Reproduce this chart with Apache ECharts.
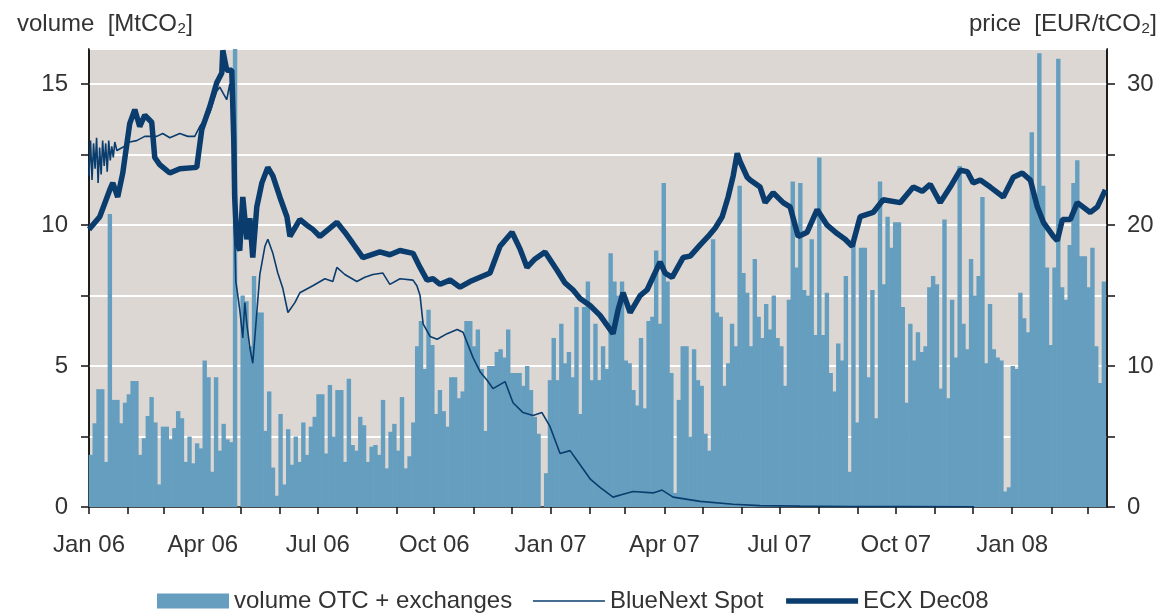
<!DOCTYPE html>
<html>
<head>
<meta charset="utf-8">
<script src="https://cdn.jsdelivr.net/npm/echarts@6/dist/echarts.min.js"></script>
<style>
html,body{margin:0;padding:0;background:#fff;}
#chart{width:1162px;height:614px;}
</style>
</head>
<body>
<div id="chart"></div>
<script>
// ---------------- data ----------------
// x positions are days since 2006-01-01
const xTickLabels = ['Jan 06','Apr 06','Jul 06','Oct 06','Jan 07','Apr 07','Jul 07','Oct 07','Jan 08'];
const xTickDates  = ['2006-01-01','2006-04-01','2006-07-01','2006-10-01','2007-01-01','2007-04-01','2007-07-01','2007-10-01','2008-01-01'];

// volume OTC + exchanges [MtCO2], one bar per 3-day slot starting 2006-01-01
const VOL_STEP_DAYS = 3;
const volume = [
1.85,2.97,4.18,4.18,1.6,10.4,3.8,3.8,2.97,3.7,
4.0,4.47,4.47,1.85,2.44,3.23,3.9,3.0,0.8,2.85,
2.85,2.4,2.8,3.4,3.15,1.6,2.5,1.55,2.26,2.08,
5.2,4.6,1.25,4.6,2.0,2.95,2.4,2.3,16.3,0,
7.5,7.3,5.7,8.2,6.9,6.9,2.7,4.1,1.4,0.4,
3.3,0.8,2.76,1.5,2.5,1.6,3.0,1.85,2.85,3.2,
4.0,4.0,1.9,4.33,2.5,4.15,4.15,1.6,4.55,2.2,
2.0,3.2,2.9,1.6,2.14,2.2,1.85,3.8,1.37,2.67,
2.95,2.0,3.9,1.37,1.8,3.0,5.7,6.6,4.9,7.0,
5.75,3.3,4.15,3.4,2.85,4.6,4.6,3.86,4.1,6.6,
6.6,5.7,6.3,4.9,2.7,5.0,5.0,5.5,5.6,5.3,
6.3,4.75,4.75,4.75,4.3,5.0,4.15,3.2,2.6,0,
1.2,4.5,6.0,4.5,6.5,5.1,5.5,4.6,7.1,3.3,
7.1,8.0,4.5,6.5,4.5,5.7,4.9,9.0,8.0,7.5,
8.0,5.2,5.1,4.15,3.6,6.0,3.5,6.6,6.75,9.1,
6.5,11.5,8.0,4.75,0.5,3.8,5.7,5.7,2.5,5.6,
4.5,4.3,2.6,2.0,9.5,6.9,6.75,4.3,5.1,6.5,
5.7,11.4,8.3,7.6,5.7,8.8,6.75,6.0,7.2,6.3,
7.5,6.0,5.7,4.3,7.35,11.55,8.5,11.5,7.7,7.5,
9.5,6.1,12.4,6.1,7.6,4.75,4.1,5.8,5.2,8.2,
1.25,9.5,3.0,9.2,9.2,4.6,7.7,3.15,11.55,7.9,
10.3,9.2,10.1,10.1,7.1,3.7,6.5,5.2,6.2,5.5,
5.7,7.8,8.2,7.9,4.2,10.2,3.86,7.35,5.3,12.1,
6.5,5.6,8.8,7.5,8.2,11.0,5.1,7.2,5.6,5.3,
5.2,0.55,0.7,5.0,4.9,7.6,6.7,6.2,13.3,11.0,
16.1,11.4,8.5,5.75,8.5,15.9,7.8,7.35,9.3,11.5,
12.3,8.9,8.9,7.8,9.2,5.7,4.4,8.0
];

// ECX Dec08 [EUR/tCO2]
const ecxDay = [0,8.5,16.4,18.8,22.7,26.7,32.2,36.2,40.1,44.1,49.6,52,55.9,63.9,71.8,85.2,89.2,95.5,101,105,
105.8,108.9,112.9,114.5,115.2,116.9,119.2,121.6,124.8,127.2,129.5,132.7,136.7,141.4,145.4,150.9,156.5,158.9,166.7,172.3,
177,182.6,196,202.3,208.7,216.6,230,237.9,245.9,256.2,261.8,267.3,272,277.6,285.5,293.4,301.3,309.2,317.1,325,
334.5,340.9,346.4,352.7,360.6,370.1,376.4,382.8,388.3,396.2,404.1,414.4,418.4,422.3,427.9,435.8,441.3,451.6,455.6,461.1,
469.8,475.4,483.3,489.6,495.2,500.7,505.4,509.4,512.6,514.9,520.5,522.8,530.7,534.7,541,548.9,554.4,560.8,567.9,575.8,
583.7,591.6,597.9,603.5,609.8,620.1,628,641.5,651.8,658.9,665.2,673.1,681,688.9,694.5,699.2,704.8,712.7,723,730.9,
738,744.4,749.9,754.7,762.6,765.7,769.7,776,781.5,791.8,797.4,803.7];
const ecxPrice = [19.7,20.6,22.5,23,22,23.7,27.2,28.2,27,27.8,27.3,24.8,24.3,23.7,24.0,24.1,26.8,28.4,30.1,30.8,
32.4,31,31,26,22,18.7,18.2,22,19,20.5,17.7,21.3,23,24.1,23.5,22,20.6,19.2,20.4,20,
19.7,19.2,20.2,19.5,18.7,17.7,18.1,17.9,18.2,18,17,16.1,16.2,15.8,16.1,15.6,16,16.3,16.6,18.5,
19.5,18.3,17,17.6,18.1,16.8,15.9,15.4,14.8,14.3,13.6,12.3,14,15.2,13.8,15,15.4,17.4,16.6,16.3,
17.7,17.8,18.6,19.2,19.8,20.6,22,23.5,25.1,24.5,23.4,23.2,22.7,21.6,22.3,21.6,21.3,19.2,19.5,21.1,
20,19.4,19,18.5,20.6,20.9,21.8,21.6,22.7,22.4,22.9,21.6,22.7,23.9,23.8,23,23.2,22.7,22,23.4,
23.7,23.2,21.3,20.2,19.2,18.9,20.4,20.4,21.6,20.9,21.3,22.5];

// BlueNext Spot [EUR/tCO2]
const spotDay = [0,1.2,2.4,3.6,4.8,6,7.2,8.4,9.6,10.8,12,13.2,14.4,15.6,16.8,18,19.2,20.4,22,
28.2,32.2,37.7,44.1,53.6,58.3,63.9,71.8,78.1,83.6,87.6,95.5,101,103.4,108.9,111.3,112.9,114.5,116.1,117.7,
119.2,121.6,123.2,124.8,127.2,129.5,132.7,135.1,139.1,141.4,145.4,149.3,153.3,157.3,162.8,166.7,177,186.5,192.8,196,
202.3,211.8,218.1,224.5,232.4,237.9,245.9,256.2,259.3,261.8,264.2,269.7,275.3,283.2,291.1,295.8,303.7,309.2,314.8,319.5,
329,335.3,343.2,351.1,358.2,364.6,372.5,380.4,389.9,396.2,404.1,414.4,422.3,430.2,446,453.2,461.9,483.3,509.4,530.7,
562.3,601.8,641.4,700];
const spotPrice = [23.5,26,23.2,25.8,24,26.2,23,25.5,23.6,26,24.2,25.8,23.8,26,24.6,25.6,24.8,25.9,25.3,
25.6,25.9,26,26.3,26.3,26.5,26.2,26.5,26.3,26.3,27,28,29.5,29.8,28.9,30,28.5,22,16,15,
14,12,14.5,13,11.3,10.2,13.8,16.5,18.5,19,18,16.6,15.5,13.8,14.5,15.2,15.7,16.2,16,17,
16.5,16,16.3,16.5,16.6,15.8,16.2,16.1,15.7,15,13,12.1,11.9,12.3,12.6,12.4,10.6,9.6,9,8.4,
8.9,7.4,6.7,6.5,6.7,5.7,3.8,4,2.8,2.0,1.4,0.7,0.9,1.1,1.0,1.2,0.7,0.4,0.2,0.1,
0.06,0.04,0.03,0.02];

// ---------------- build ----------------
const T0 = Date.UTC(2006, 0, 1);
const DAY = 864e5;
const toDay = s => { const p = s.split('-').map(Number); return (Date.UTC(p[0], p[1]-1, p[2]) - T0) / DAY; };
const X_MAX = 805;

const monthTicks = [];
for (let y = 2006; y <= 2008; y++) for (let m = 0; m < 12; m++) {
  const d = (Date.UTC(y, m, 1) - T0) / DAY;
  if (d <= X_MAX) monthTicks.push(d);
}
const labelDays = xTickDates.map(toDay);

const volData = volume.map((v, i) => [i * VOL_STEP_DAYS + VOL_STEP_DAYS / 2, v]);
const ecxData = ecxDay.map((d, i) => [d, ecxPrice[i]]);
const spotData = spotDay.map((d, i) => [d, spotPrice[i]]);

const FONT = "'Liberation Sans', Arial, Helvetica, sans-serif";
const TXT = '#333333';
const BAR = '#659ebe';
const LINE = '#0a3d6e';
const FS = 24;

const chart = echarts.init(document.getElementById('chart'), null, {renderer: 'canvas'});
chart.setOption({
  animation: false,
  backgroundColor: '#ffffff',
  textStyle: {fontFamily: FONT},
  title: [
    {text: 'volume  [MtCO\u2082]', left: 12, top: 7, textStyle: {fontFamily: FONT, fontSize: FS, fontWeight: 'normal', color: TXT}},
    {text: 'price  [EUR/tCO\u2082]', right: 0, top: 7, textStyle: {fontFamily: FONT, fontSize: FS, fontWeight: 'normal', color: TXT}}
  ],
  grid: {left: 89, right: 55, top: 49, bottom: 107, show: true, backgroundColor: '#dcd7d3', borderColor: '#111', borderWidth: 1.5},
  legend: {
    left: 157, top: 589, padding: 0, itemWidth: 72, itemHeight: 15, itemGap: 20,
    textStyle: {fontFamily: FONT, fontSize: FS, color: TXT},
    data: [
      {name: 'volume OTC + exchanges', icon: 'rect'},
      {name: 'BlueNext Spot', lineStyle: {width: 1.6, color: LINE}},
      {name: 'ECX Dec08', lineStyle: {width: 5.5, color: LINE}}
    ]
  },
  xAxis: {
    type: 'value', min: 0, max: X_MAX,
    axisLine: {lineStyle: {color: '#111', width: 1.5}},
    axisTick: {show: true, inside: false, length: 7, customValues: monthTicks, lineStyle: {color: '#111', width: 1.5}},
    axisLabel: {
      customValues: labelDays, margin: 26, fontSize: FS, color: TXT, fontFamily: FONT,
      formatter: v => { const k = labelDays.findIndex(d => Math.abs(d - v) < 0.5); return k >= 0 ? xTickLabels[k] : ''; }
    },
    splitLine: {show: false}
  },
  yAxis: [
    {
      type: 'value', min: 0, max: 16.25, interval: 2.5, position: 'left',
      axisLine: {show: true, lineStyle: {color: '#111', width: 1.5}},
      axisTick: {show: true, inside: false, length: 8, lineStyle: {color: '#111', width: 1.5}},
      axisLabel: {margin: 21, fontSize: FS, color: TXT, fontFamily: FONT, showMaxLabel: false,
        formatter: v => (Math.abs(v % 5) < 1e-6 ? String(v) : '')},
      splitLine: {show: true, lineStyle: {color: '#ffffff', width: 2}}
    },
    {
      type: 'value', min: 0, max: 32.5, interval: 5, position: 'right',
      axisLine: {show: true, lineStyle: {color: '#111', width: 1.5}},
      axisTick: {show: true, inside: false, length: 8, lineStyle: {color: '#111', width: 1.5}},
      axisLabel: {margin: 20, fontSize: FS, color: TXT, fontFamily: FONT, showMaxLabel: false,
        formatter: v => (Math.abs(v % 10) < 1e-6 ? String(v) : '')},
      splitLine: {show: false}
    }
  ],
  series: [
    {name: 'volume OTC + exchanges', type: 'bar', xAxisIndex: 0, yAxisIndex: 0, data: volData,
      barWidth: 4.4, itemStyle: {color: BAR}, z: 2},
    {name: 'BlueNext Spot', type: 'line', yAxisIndex: 1, data: spotData, symbol: 'none', showSymbol: false,
      lineStyle: {color: LINE, width: 1.6}, itemStyle: {color: 'rgba(0,0,0,0)', borderWidth: 0}, z: 3},
    {name: 'ECX Dec08', type: 'line', yAxisIndex: 1, data: ecxData, symbol: 'none', showSymbol: false,
      lineStyle: {color: LINE, width: 5.5}, itemStyle: {color: 'rgba(0,0,0,0)', borderWidth: 0}, z: 4}
  ]
});
</script>
</body>
</html>
